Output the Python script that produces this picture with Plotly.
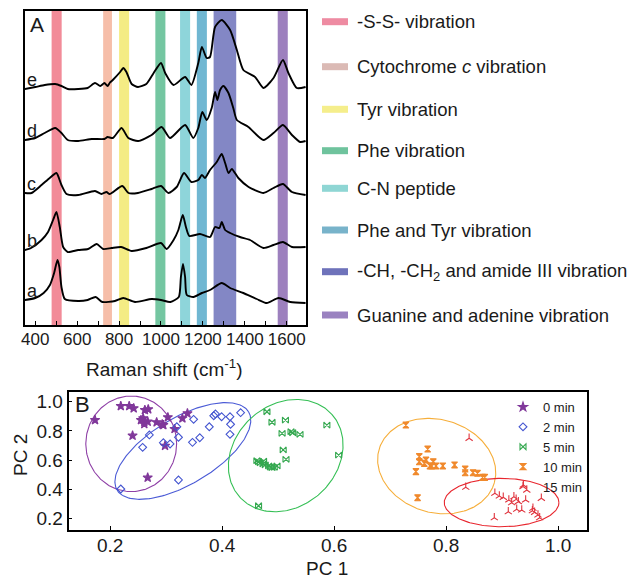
import numpy as np
import plotly.graph_objects as go

# ---------------- Panel A: Raman spectra (cm-1, offset intensity a.u.) ----------------
wn_e = [350,400,445,495,525,555,605,650,685,710,730,745,755,770,805,820,835,860,890,930,965,1000,1020,1060,1115,1145,1178,1195,1218,1234,1258,1290,1330,1362,1393,1449,1489,1537,1582,1608,1648,1690]
int_e = [236,238,240,241,239,236,236,237,242,239,242,239,242,245,253,257,253,241,238,241,252,262,252,240,248,240,262,278,267,268,298,305,295,275,255,248,237,247,265,252,237,238]

wn_d = [350,400,445,495,525,555,605,670,730,745,770,812,844,891,955,1003,1043,1115,1154,1178,1197,1218,1242,1258,1269,1282,1298,1322,1345,1362,1417,1489,1537,1582,1625,1664,1690]
int_d = [185,187,192,197,192,185,184,186,186,188,187,197,187,184,190,198,187,200,187,197,213,205,217,233,225,235,239,232,217,205,198,185,192,200,190,183,184]

wn_c = [350,382,430,469,501,525,549,605,685,716,740,755,815,845,890,955,1000,1035,1075,1110,1145,1178,1195,1210,1234,1266,1290,1306,1322,1338,1369,1418,1489,1537,1582,1625,1690]
int_c = [132,132,140,147,152,140,131,130,134,131,133,131,139,132,132,136,139,132,138,152,143,145,150,147,155,163,171,162,152,156,147,138,132,137,141,133,130]

wn_b = [350,380,430,461,485,501,517,533,555,605,652,693,724,764,810,860,930,1000,1027,1060,1083,1104,1119,1135,1186,1234,1258,1279,1290,1306,1330,1377,1425,1489,1537,1582,1625,1690]
int_b = [75,77,85,93,105,113,98,78,73,75,76,81,76,77,78,74,77,82,76,85,95,110,98,89,91,88,98,97,103,95,92,88,85,77,80,83,78,78]

wn_a = [350,400,440,470,490,506,515,525,541,605,650,688,720,780,820,876,955,1000,1045,1085,1095,1105,1115,1123,1155,1195,1234,1290,1330,1393,1457,1505,1561,1617,1690]
int_a = [25,27,32,40,52,65,58,38,26,24,25,28,23,24,27,23,26,25,23,28,48,61,48,30,28,32,35,42,37,32,26,22,27,23,22]

spectra_labels = ["a", "b", "c", "d", "e"]

band_names = ["-S-S- vibration", "Cytochrome <i>c</i> vibration", "Tyr vibration", "Phe vibration",
              "C-N peptide", "Phe and Tyr vibration",
              "-CH, -CH<sub>2</sub> and amide III vibration", "Guanine and adenine vibration"]
band_lo = [478, 724, 800, 973, 1091, 1171, 1251, 1557]
band_hi = [526, 766, 848, 1021, 1139, 1219, 1359, 1605]
band_colors = ["#F28B98", "#F6BEA9", "#F4EC84", "#74C6A1", "#8ED5DA", "#70B7D2", "#8387C5", "#9D80BE"]
legend_colors = ["#EE8BA2", "#DBBAB5", "#F5EE8C", "#6FC39D", "#8FD6D4", "#78B3CA", "#6E72BA", "#9A82C0"]

# ---------------- Panel B: PCA scores ----------------
groups = ["0 min", "2 min", "5 min", "10 min", "15 min"]
pc1_0 = [0.173,0.219,0.234,0.242,0.262,0.268,0.255,0.261,0.267,0.261,0.259,0.283,0.295,0.303,0.315,0.329,0.338,0.240,0.298,0.267,0.293]
pc2_0 = [0.874,0.970,0.970,0.955,0.943,0.948,0.874,0.863,0.863,0.847,0.886,0.859,0.840,0.893,0.813,0.886,0.920,0.767,0.698,0.479,0.845]
pc1_2 = [0.219,0.258,0.270,0.295,0.307,0.319,0.322,0.322,0.347,0.349,0.360,0.377,0.385,0.388,0.399,0.414,0.415,0.414,0.433]
pc2_2 = [0.401,0.687,0.772,0.719,0.710,0.828,0.756,0.463,0.721,0.879,0.753,0.828,0.904,0.916,0.897,0.897,0.845,0.776,0.925]
pc1_5 = [0.480,0.489,0.513,0.507,0.523,0.526,0.539,0.587,0.509,0.514,0.608,0.462,0.465,0.468,0.473,0.477,0.483,0.489,0.493,0.498,0.465,0.474,0.486]
pc2_5 = [0.931,0.859,0.874,0.783,0.794,0.787,0.776,0.840,0.669,0.605,0.634,0.595,0.588,0.581,0.573,0.566,0.559,0.547,0.550,0.559,0.286,0.592,0.552]
pc1_10 = [0.728,0.767,0.752,0.752,0.764,0.761,0.771,0.777,0.782,0.794,0.815,0.834,0.834,0.848,0.856,0.865,0.869,0.746,0.749,0.774]
pc2_10 = [0.840,0.675,0.623,0.588,0.600,0.577,0.559,0.588,0.559,0.559,0.566,0.538,0.513,0.513,0.509,0.481,0.481,0.520,0.341,0.559]
pc1_15 = [0.841,0.835,0.887,0.895,0.902,0.912,0.921,0.925,0.929,0.938,0.944,0.942,0.917,0.935,0.955,0.970,0.954,0.958,0.964,0.967,0.911,0.886,0.926]
pc2_15 = [0.749,0.413,0.372,0.353,0.344,0.326,0.348,0.330,0.314,0.428,0.394,0.326,0.307,0.257,0.269,0.337,0.252,0.241,0.223,0.204,0.245,0.204,0.262]

# confidence ellipses: centre and two conjugate half-axis vectors (data units)
ell_cx = [0.2376, 0.3298, 0.5135, 0.7831, 0.899]
ell_cy = [0.711, 0.662, 0.630, 0.558, 0.308]
ell_ux = [0.0811, 0.1175, 0.0824, 0.1029, 0.1024]
ell_uy = [0.0, 0.268, 0.2834, -0.1153, 0.0]
ell_vx = [0.0, -0.0303, -0.0608, 0.0232, 0.0]
ell_vy = [0.328, 0.196, 0.2614, 0.3067, 0.166]

marker_colors = ["#80389A", "#4455D0", "#35A850", "#F0892C", "#E0343E"]
ellipse_colors = ["#8E3FA6", "#4B5BD6", "#35BF55", "#F6AE3A", "#E8262E"]
symbols = ["star", "diamond-open", "bowtie-open", "hourglass", "y-up"]
sizes = [7, 6, 6, 6, 6]

W, H = 636, 579
FONT = "Arial, Liberation Sans, sans-serif"
TXT = "#1a1a1a"


def px(v):
    return v / W


def py(v):
    return 1 - v / H


fig = go.Figure()

# spectra
spectra = [(wn_a, int_a), (wn_b, int_b), (wn_c, int_c), (wn_d, int_d), (wn_e, int_e)]
for lab, (xs, ys) in zip(spectra_labels, spectra):
    fig.add_trace(go.Scatter(x=xs, y=ys, mode="lines", xaxis="x", yaxis="y",
                             line=dict(color="black", width=1.9, shape="spline", smoothing=0.6),
                             showlegend=False, hoverinfo="skip", name=lab))

# bands
shapes = []
for lo, hi, col in zip(band_lo, band_hi, band_colors):
    shapes.append(dict(type="rect", xref="x", yref="y domain", x0=lo, x1=hi, y0=0, y1=1,
                       fillcolor=col, line=dict(width=0), layer="below"))

# manual key for the bands
legend_rows = [21.7, 66.7, 109.3, 150.7, 188.3, 230, 271.7, 315]
annotations = []
for name, col, r in zip(band_names, legend_colors, legend_rows):
    shapes.append(dict(type="rect", xref="paper", yref="paper", x0=px(322), x1=px(348),
                       y0=py(r + 3.5), y1=py(r - 3.5), fillcolor=col, line=dict(width=0)))
    annotations.append(dict(text=name, xref="paper", yref="paper", x=px(355), y=py(r),
                            xanchor="left", yanchor="middle", showarrow=False,
                            font=dict(size=18.5, family=FONT, color=TXT)))

# spectrum labels a-e
for lab, (xs, ys) in zip(spectra_labels, spectra):
    annotations.append(dict(text=lab, xref="x", yref="y", x=352, y=ys[0] + 9,
                            xanchor="left", yanchor="middle", showarrow=False,
                            font=dict(size=18, family=FONT, color=TXT)))

annotations.append(dict(text="A", xref="paper", yref="paper", x=px(28), y=py(24),
                        xanchor="left", yanchor="middle", showarrow=False,
                        font=dict(size=21, family=FONT, color=TXT)))
annotations.append(dict(text="B", xref="paper", yref="paper", x=px(73), y=py(404),
                        xanchor="left", yanchor="middle", showarrow=False,
                        font=dict(size=22, family=FONT, color=TXT)))

# axis titles
annotations.append(dict(text="Raman shift (cm<sup>-1</sup>)", xref="paper", yref="paper",
                        x=px(164), y=py(368), xanchor="center", yanchor="middle", showarrow=False,
                        font=dict(size=19, family=FONT, color=TXT)))
annotations.append(dict(text="PC 1", xref="paper", yref="paper",
                        x=px(327), y=py(568), xanchor="center", yanchor="middle", showarrow=False,
                        font=dict(size=19, family=FONT, color=TXT)))
annotations.append(dict(text="PC 2", xref="paper", yref="paper", textangle=-90,
                        x=px(20), y=py(455), xanchor="center", yanchor="middle", showarrow=False,
                        font=dict(size=19, family=FONT, color=TXT)))

# ellipses
t = np.linspace(0, 2 * np.pi, 240)
for i in range(5):
    ex = ell_cx[i] + ell_ux[i] * np.cos(t) + ell_vx[i] * np.sin(t)
    ey = ell_cy[i] + ell_uy[i] * np.cos(t) + ell_vy[i] * np.sin(t)
    fig.add_trace(go.Scatter(x=ex, y=ey, mode="lines", xaxis="x2", yaxis="y2",
                             line=dict(color=ellipse_colors[i], width=1.1),
                             showlegend=False, hoverinfo="skip"))

# scatter points
pcs = [(pc1_0, pc2_0), (pc1_2, pc2_2), (pc1_5, pc2_5), (pc1_10, pc2_10), (pc1_15, pc2_15)]
for i, (xs, ys) in enumerate(pcs):
    fig.add_trace(go.Scatter(x=xs, y=ys, mode="markers", xaxis="x2", yaxis="y2", name=groups[i],
                             marker=dict(symbol=symbols[i], size=sizes[i], color=marker_colors[i],
                                         line=dict(color=marker_colors[i], width=1.1))))

axis_common = dict(showline=True, linecolor="black", linewidth=1.5, mirror=True,
                   showgrid=False, zeroline=False, automargin=False)

fig.update_layout(
    width=W, height=H,
    margin=dict(l=0, r=0, t=0, b=0),
    paper_bgcolor="white", plot_bgcolor="white",
    font=dict(family=FONT, color=TXT),
    xaxis=dict(domain=[px(25), px(306)], anchor="y", range=[351, 1692],
               tickvals=[400, 600, 800, 1000, 1200, 1400, 1600], ticks="inside", ticklen=4,
               tickcolor="black", ticklabelstandoff=-2,
               minor=dict(dtick=100, tick0=0, ticks="inside", ticklen=4, tickcolor="black"),
               tickfont=dict(size=17, family=FONT, color=TXT), **axis_common),
    yaxis=dict(domain=[py(325), py(11)], anchor="x", range=[0, 314], showticklabels=False, ticks="",
               **axis_common),
    xaxis2=dict(domain=[px(68.5), px(586.7)], anchor="y2", range=[0.1256, 1.051],
                tickvals=[0.2, 0.4, 0.6, 0.8, 1.0], tickformat=".1f", ticks="inside", ticklen=4,
                tickcolor="black", ticklabelstandoff=-3,
                tickfont=dict(size=19, family=FONT, color=TXT), **axis_common),
    yaxis2=dict(domain=[py(530), py(392)], anchor="x2", range=[0.1197, 1.0666],
                tickvals=[0.2, 0.4, 0.6, 0.8, 1.0], tickformat=".1f", ticks="inside", ticklen=4,
                tickcolor="black",
                tickfont=dict(size=19, family=FONT, color=TXT), **axis_common),
    legend=dict(x=px(503), y=py(392), xanchor="left", yanchor="top",
                bgcolor="rgba(0,0,0,0)", font=dict(size=13, family=FONT, color=TXT),
                itemwidth=30, tracegroupgap=0),
    shapes=shapes,
    annotations=annotations,
)

fig.write_html("out.html", config={"displayModeBar": False},
               post_script="document.body.style.margin='0';document.body.style.padding='0';")
